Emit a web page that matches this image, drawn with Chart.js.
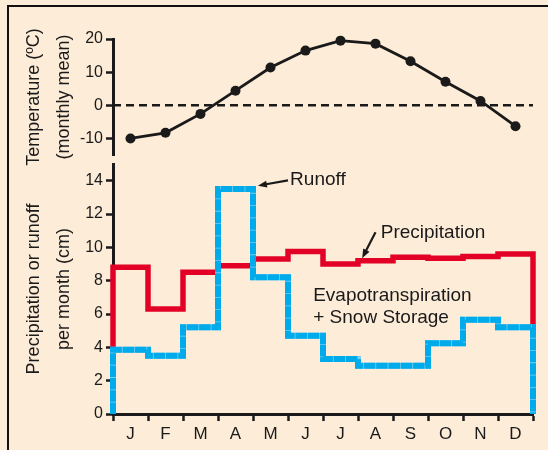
<!DOCTYPE html>
<html>
<head>
<meta charset="utf-8">
<script src="https://cdn.jsdelivr.net/npm/chart.js@4.4.1/dist/chart.umd.min.js"></script>
<style>
  html, body { margin: 0; padding: 0; background: #fdecd8; }
  #wrap { position: relative; width: 548px; height: 450px; overflow: hidden; }
  #frame { position: absolute; left: 7px; top: 5px; width: 700px; height: 700px; border: 2.5px solid #111; }
  canvas { position: absolute; left: 0; top: 0; }
</style>
</head>
<body>
<div id="wrap">
  <div id="frame"></div>
  <canvas id="tempChart" width="548" height="450"></canvas>
  <canvas id="waterChart" width="548" height="450"></canvas>
</div>
<script>
// data
const months = ['J', 'F', 'M', 'A', 'M', 'J', 'J', 'A', 'S', 'O', 'N', 'D'];
const temperature = [-10, -8.3, -2.6, 4.4, 11.4, 16.5, 19.5, 18.6, 13.3, 7.1, 1.3, -6.3];
const precipitation = [8.8, 6.3, 8.5, 8.9, 9.3, 9.75, 9.0, 9.2, 9.4, 9.35, 9.45, 9.6];
const runoff = [3.85, 3.5, 5.2, 13.5, 8.2, 4.7, 3.3, 2.9, 2.9, 4.25, 5.65, 5.2];
const tempTicks = [-10, 0, 10, 20];
const waterTicks = [0, 1, 2, 3, 4, 5, 6, 7, 8, 9, 10, 11, 12, 13, 14, 15];
const monthBounds = [0, 1, 2, 3, 4, 5, 6, 7, 8, 9, 10, 11, 12];

const font = '"Liberation Sans", Arial, Helvetica, sans-serif';
const ink = '#1a1a1a';
const red = 'rgb(226, 0, 38)';
const blue = 'rgb(0, 171, 235)';
const paleBlue = 'rgb(120, 205, 240)';

Chart.defaults.font.family = font;
Chart.defaults.color = ink;

// step lines: rise from 0 at Jan, fall back to 0 after Dec
function steps(values) {
    const pts = [{ x: 0, y: 0 }, { x: 0, y: values[0] }];
    values.forEach((v, i) => pts.push({ x: i + 1, y: v }));
    pts.push({ x: values.length, y: 0 });
    return pts;
}

function yAxis(ticks, min, max, title) {
    return {
        type: 'linear',
        min: min,
        max: max,
        afterFit: s => { s.width = 113; },
        afterBuildTicks: s => { s.ticks = ticks.map(v => ({ value: v })); },
        border: { color: ink, width: 3 },
        grid: { drawOnChartArea: false, tickLength: 7, tickColor: ink, tickWidth: 2.5 },
        ticks: {
            padding: 3,
            font: { size: 16 },
            color: ink,
            callback: v => (min === 0 && v % 2 === 1) ? '' : v
        },
        title: {
            display: true,
            text: title,
            color: ink,
            font: { size: 18, lineHeight: 1.67 },
            padding: { top: 19, bottom: 0 }
        }
    };
}

// top panel: monthly mean temperature
new Chart(document.getElementById('tempChart'), {
    type: 'line',
    data: {
        datasets: [{
            data: temperature.map((v, i) => ({ x: i + 0.5, y: v })),
            borderColor: ink,
            borderWidth: 2.8,
            pointRadius: 5,
            pointBackgroundColor: ink,
            pointBorderWidth: 0,
            clip: false
        }, {
            data: [{ x: 0, y: 0 }, { x: 12, y: 0 }],
            borderColor: ink,
            borderWidth: 2.5,
            borderDash: [8, 5],
            pointRadius: 0,
            clip: false
        }]
    },
    options: {
        responsive: false,
        animation: false,
        layout: { padding: { left: 0, right: 15, top: 39, bottom: 295 } },
        plugins: { legend: { display: false }, tooltip: { enabled: false } },
        scales: {
            x: { type: 'linear', min: 0, max: 12, display: false },
            y: yAxis(tempTicks, -15, 20, ['Temperature (ºC)', '(monthly mean)'])
        }
    }
});

function arrow(ctx, x1, y1, x2, y2) {
    const a = Math.atan2(y2 - y1, x2 - x1);
    const len = 9, half = 3.5;
    ctx.beginPath();
    ctx.moveTo(x1, y1);
    ctx.lineTo(x2 - Math.cos(a) * len * 0.6, y2 - Math.sin(a) * len * 0.6);
    ctx.stroke();
    ctx.beginPath();
    ctx.moveTo(x2, y2);
    ctx.lineTo(x2 - Math.cos(a) * len - Math.sin(a) * half, y2 - Math.sin(a) * len + Math.cos(a) * half);
    ctx.lineTo(x2 - Math.cos(a) * len + Math.sin(a) * half, y2 - Math.sin(a) * len - Math.cos(a) * half);
    ctx.closePath();
    ctx.fill();
}

// labels and arrows inside the lower panel
const notes = {
    id: 'notes',
    afterDatasetsDraw(chart) {
        const { ctx, scales: { x, y } } = chart;
        ctx.save();
        ctx.fillStyle = ink;
        ctx.strokeStyle = ink;
        ctx.lineWidth = 2.2;
        ctx.font = '19px ' + font;
        ctx.textBaseline = 'alphabetic';
        ctx.fillText('Runoff', x.getPixelForValue(5.06), y.getPixelForValue(13.76));
        arrow(ctx, x.getPixelForValue(5.0), y.getPixelForValue(14.02), x.getPixelForValue(4.14), y.getPixelForValue(13.7));
        ctx.fillText('Precipitation', x.getPixelForValue(7.65), y.getPixelForValue(10.58));
        arrow(ctx, x.getPixelForValue(7.5), y.getPixelForValue(10.9), x.getPixelForValue(7.12), y.getPixelForValue(9.35));
        ctx.fillText('Evapotranspiration', x.getPixelForValue(5.72), y.getPixelForValue(6.81));
        ctx.fillText('+ Snow Storage', x.getPixelForValue(5.72), y.getPixelForValue(5.46));
        ctx.restore();
    }
};

const stepStyle = { stepped: 'after', borderJoinStyle: 'miter', pointRadius: 0, clip: false };

// bottom panel: precipitation and runoff per month
new Chart(document.getElementById('waterChart'), {
    type: 'line',
    data: {
        datasets: [{
            ...stepStyle,
            data: steps(runoff),
            borderColor: blue,
            borderWidth: 6,
            borderDash: [11.5, 0.8],
            order: 1
        }, {
            ...stepStyle,
            data: steps(runoff),
            borderColor: paleBlue,
            borderWidth: 6,
            order: 2
        }, {
            ...stepStyle,
            data: steps(precipitation),
            borderColor: red,
            borderWidth: 5.5,
            order: 3
        }]
    },
    options: {
        responsive: false,
        animation: false,
        layout: { padding: { left: 0, right: 15, top: 164, bottom: 0 } },
        plugins: { legend: { display: false }, tooltip: { enabled: false } },
        scales: {
            x: {
                type: 'linear',
                min: 0,
                max: 12,
                afterFit: s => { s.height = 36; },
                afterBuildTicks: s => {
                    const t = [];
                    monthBounds.forEach(v => {
                        t.push({ value: v });
                        if (v < 12) t.push({ value: v + 0.5 });
                    });
                    s.ticks = t;
                },
                border: { color: ink, width: 3 },
                grid: {
                    drawOnChartArea: false,
                    tickLength: 7,
                    tickWidth: 2.5,
                    tickColor: c => Number.isInteger(c.tick.value) ? ink : 'rgba(0,0,0,0)'
                },
                ticks: {
                    autoSkip: false,
                    maxRotation: 0,
                    padding: 3,
                    font: { size: 17 },
                    color: ink,
                    callback: v => Number.isInteger(v) ? '' : months[Math.floor(v)]
                }
            },
            y: yAxis(waterTicks, 0, 15, ['Precipitation or runoff', 'per month (cm)'])
        }
    },
    plugins: [notes]
});
</script>
</body>
</html>
